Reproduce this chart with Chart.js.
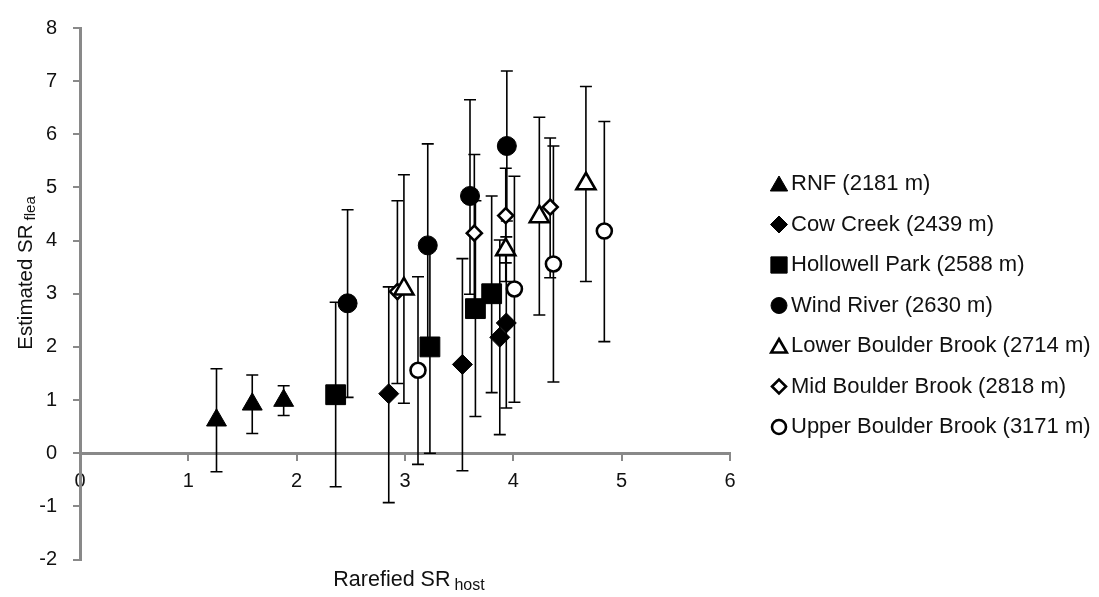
<!DOCTYPE html>
<html>
<head>
<meta charset="utf-8">
<script src="https://cdn.jsdelivr.net/npm/chart.js@4.4.1/dist/chart.umd.min.js"></script>
<style>
  html, body { margin: 0; padding: 0; background: #ffffff; }
  #wrap { width: 1099px; height: 597px; }
</style>
</head>
<body>
<div id="wrap"><canvas id="c" width="1099" height="597"></canvas></div>
<script>
// ---- data ----
const siteNames = ["RNF (2181 m)", "Cow Creek (2439 m)", "Hollowell Park (2588 m)", "Wind River (2630 m)",
                   "Lower Boulder Brook (2714 m)", "Mid Boulder Brook (2818 m)", "Upper Boulder Brook (3171 m)"];

const rnfX = [1.26, 1.59, 1.88];
const rnfY = [0.62, 0.92, 0.99];
const rnfLo = [-0.35, 0.37, 0.71];
const rnfHi = [1.59, 1.47, 1.27];

const cowX = [2.85, 3.53, 3.875, 3.935];
const cowY = [1.12, 1.67, 2.18, 2.45];
const cowLo = [-0.93, -0.33, 0.35, 0.85];
const cowHi = [3.13, 3.66, 4.01, 4.07];

const holX = [2.36, 3.23, 3.65, 3.80];
const holY = [1.10, 2.00, 2.72, 3.00];
const holLo = [-0.63, 0.00, 0.69, 1.14];
const holHi = [2.84, 4.00, 4.75, 4.84];

const windX = [2.47, 3.21, 3.60, 3.94];
const windY = [2.82, 3.91, 4.84, 5.78];
const windLo = [1.05, 2.02, 2.99, 4.37];
const windHi = [4.58, 5.82, 6.65, 7.19];

const lowX = [2.99, 3.93, 4.24, 4.67];
const lowY = [3.09, 3.83, 4.45, 5.07];
const lowLo = [0.94, 3.23, 2.60, 3.23];
const lowHi = [5.24, 4.43, 6.32, 6.90];

const midX = [2.93, 3.64, 3.93, 4.34];
const midY = [3.04, 4.14, 4.47, 4.63];
const midLo = [1.31, 2.68, 3.58, 3.30];
const midHi = [4.75, 5.62, 5.36, 5.93];

const upX = [3.12, 4.01, 4.37, 4.84];
const upY = [1.56, 3.09, 3.56, 4.18];
const upLo = [-0.21, 0.96, 1.34, 2.10];
const upHi = [3.32, 5.21, 5.78, 6.24];

const xTicks = [0, 1, 2, 3, 4, 5, 6];
const yTicks = [-2, -1, 0, 1, 2, 3, 4, 5, 6, 7, 8];

// ---- styles ----
const FONT = "'Liberation Sans', Arial, sans-serif";
const TXT = '#111111';
const AXIS = '#898989';

function pts(xs, ys) { return xs.map((x, i) => ({x: x, y: ys[i]})); }

const seriesDefs = [
  {x: rnfX, y: rnfY, lo: rnfLo, hi: rnfHi, style: 'triangle', filled: true, r: 11.5, lr: 10},
  {x: cowX, y: cowY, lo: cowLo, hi: cowHi, style: 'rectRot', filled: true, r: 10, lr: 8.5},
  {x: holX, y: holY, lo: holLo, hi: holHi, style: 'rect', filled: true, r: 14, lr: 11.5},
  {x: windX, y: windY, lo: windLo, hi: windHi, style: 'circle', filled: true, r: 9.5, lr: 8},
  {x: lowX, y: lowY, lo: lowLo, hi: lowHi, style: 'triangle', filled: false, r: 11, lr: 9},
  {x: midX, y: midY, lo: midLo, hi: midHi, style: 'rectRot', filled: false, r: 7.5, lr: 7},
  {x: upX, y: upY, lo: upLo, hi: upHi, style: 'circle', filled: false, r: 7.5, lr: 7}
];

const datasets = seriesDefs.map((s, i) => ({
  label: siteNames[i],
  data: pts(s.x, s.y),
  pointStyle: s.style,
  pointRadius: s.r,
  pointHoverRadius: s.r,
  pointBackgroundColor: s.filled ? '#000000' : '#ffffff',
  pointBorderColor: '#000000',
  pointBorderWidth: s.filled ? 1 : 2.6,
  showLine: false,
  errLo: s.lo,
  errHi: s.hi,
  legendR: s.lr
}));

// error bars drawn through the scales, beneath the markers
const errorBars = {
  id: 'errorBars',
  beforeDatasetsDraw(chart) {
    const {ctx, scales: {x, y}} = chart;
    ctx.save();
    ctx.strokeStyle = '#000000';
    ctx.lineWidth = 1.6;
    chart.data.datasets.forEach(ds => {
      ds.data.forEach((p, j) => {
        const px = x.getPixelForValue(p.x);
        const yl = y.getPixelForValue(ds.errLo[j]);
        const yh = y.getPixelForValue(ds.errHi[j]);
        ctx.beginPath();
        ctx.moveTo(px, yl); ctx.lineTo(px, yh);
        ctx.moveTo(px - 6, yl); ctx.lineTo(px + 6, yl);
        ctx.moveTo(px - 6, yh); ctx.lineTo(px + 6, yh);
        ctx.stroke();
      });
    });
    ctx.restore();
  }
};

// axis titles with subscripts, and legend at the right
const textDecor = {
  id: 'textDecor',
  afterDraw(chart) {
    const {ctx} = chart;
    ctx.save();
    ctx.fillStyle = TXT;
    ctx.textBaseline = 'alphabetic';
    const mainF = '20.5px ' + FONT, subF = '15px ' + FONT;
    // y title
    ctx.font = mainF; const yMainW = ctx.measureText('Estimated SR').width;
    ctx.font = subF; const ySubW = ctx.measureText('flea').width;
    const yTot = yMainW + 4 + ySubW;
    ctx.translate(32, 273);
    ctx.rotate(-Math.PI / 2);
    ctx.textAlign = 'left';
    ctx.font = mainF; ctx.fillText('Estimated SR', -yTot / 2, 0);
    ctx.font = subF; ctx.fillText('flea', -yTot / 2 + yMainW + 4, 3);
    ctx.setTransform(1, 0, 0, 1, 0, 0);
    // x title
    const xMainF = '21.5px ' + FONT, xSubF = '16px ' + FONT;
    ctx.font = xMainF; const xMainW = ctx.measureText('Rarefied SR').width;
    ctx.font = xSubF; const xSubW = ctx.measureText('host').width;
    const xTot = xMainW + 4 + xSubW;
    const cx = 409;
    ctx.font = xMainF; ctx.fillText('Rarefied SR', cx - xTot / 2, 586);
    ctx.font = xSubF; ctx.fillText('host', cx - xTot / 2 + xMainW + 4, 590);
    // legend
    const legX = 779, textX = 791, row0 = 184, rowGap = 40.5;
    chart.data.datasets.forEach((ds, i) => {
      const ry = row0 + i * rowGap;
      ctx.fillStyle = ds.pointBackgroundColor;
      ctx.strokeStyle = '#000000';
      ctx.lineWidth = ds.pointBorderWidth;
      Chart.helpers.drawPoint(ctx, {pointStyle: ds.pointStyle, radius: ds.legendR, rotation: 0, borderWidth: ds.pointBorderWidth}, legX, ry + (ds.pointStyle === 'triangle' ? 2 : 0));
      ctx.fillStyle = TXT;
      ctx.font = '22px ' + FONT;
      ctx.textBaseline = 'middle';
      ctx.textAlign = 'left';
      ctx.fillText(ds.label, textX, ry);
    });
    ctx.restore();
  }
};

new Chart(document.getElementById('c'), {
  type: 'scatter',
  data: {datasets: datasets},
  plugins: [errorBars, textDecor],
  options: {
    responsive: false,
    animation: false,
    events: [],
    layout: {padding: {left: 0, top: 17, right: 369, bottom: 37.5}},
    plugins: {legend: {display: false}, tooltip: {enabled: false}, title: {display: false}},
    scales: {
      x: {
        type: 'linear',
        min: xTicks[0], max: xTicks[xTicks.length - 1],
        position: {y: 0},
        afterFit(s) { s.height = 0; },
        afterBuildTicks(s) { s.ticks = xTicks.map(v => ({value: v})); },
        ticks: {font: {family: FONT, size: 20}, color: TXT, padding: 10, maxRotation: 0, autoSkip: false},
        grid: {display: true, drawOnChartArea: false, drawTicks: true, tickLength: 6, color: AXIS, lineWidth: 2},
        border: {display: true, color: AXIS, width: 3},
        title: {display: false}
      },
      y: {
        type: 'linear',
        min: yTicks[0], max: yTicks[yTicks.length - 1],
        afterFit(s) { s.width = 80; },
        afterBuildTicks(s) { s.ticks = yTicks.map(v => ({value: v})); },
        ticks: {font: {family: FONT, size: 20}, color: TXT, padding: 16},
        grid: {display: true, drawOnChartArea: false, drawTicks: true, tickLength: 7, color: AXIS, lineWidth: 2},
        border: {display: true, color: AXIS, width: 3},
        title: {display: false}
      }
    }
  }
});
</script>
</body>
</html>
